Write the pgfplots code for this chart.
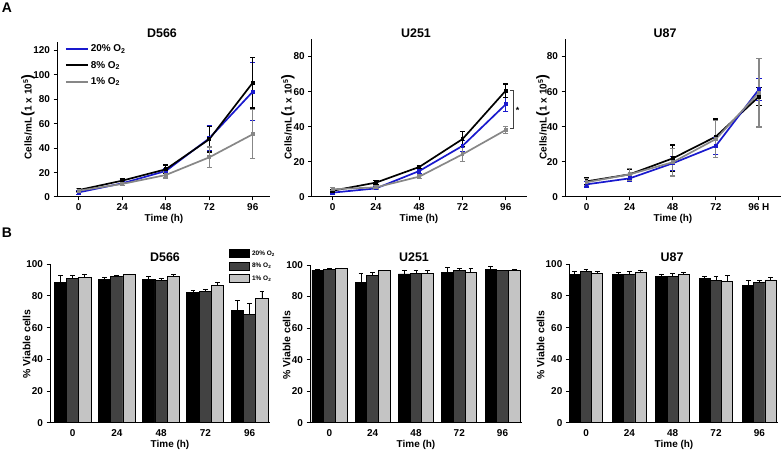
\documentclass[border=0pt]{standalone}
\usepackage{fontspec}
\setmainfont{Liberation Sans}
\usepackage{pgfplots}
\pgfplotsset{compat=1.18}
\definecolor{cblue}{RGB}{25,25,205}
\definecolor{cgray}{RGB}{135,135,135}
\definecolor{bdark}{RGB}{66,66,66}
\definecolor{blight}{RGB}{196,196,196}
\pgfplotsset{
  base/.style={scale only axis, anchor=south west, axis lines=left,
    axis line style={-, line width=1pt, black},
    tick align=outside, major tick length=3.5pt,
    tick style={line width=1pt, black},
    /pgf/number format/assume math mode=true,
    ticklabel style={font=\bfseries\fontsize{10}{12}\selectfont},
    xticklabel style={inner sep=1pt, yshift=-2pt},
    ymin=0, clip=false},
  lineax/.style={base, xtick={0,24,48,72,96}},
  barax/.style={base, ymax=100, ytick={0,20,...,100}, xtick={0,1,2,3,4},
    xticklabels={0,24,48,72,96}, x tick style={draw=none}},
  lp/.style={line width=1.7pt, mark=square*, mark size=1.1pt,
    error bars/y dir=both, error bars/y explicit,
    error bars/error bar style={line width=1.2pt},
    error bars/error mark options={rotate=90, mark size=2.6pt, line width=1.2pt}},
  bp/.style={ybar, bar shift=0pt, draw=black, line width=0.9pt,
    error bars/y dir=plus, error bars/y explicit,
    error bars/error bar style={line width=0.9pt, black},
    error bars/error mark options={rotate=90, mark size=2.4pt, line width=0.9pt, black}},
}
\newcommand{\lab}[1]{\bfseries\fontsize{#1}{#1}\selectfont}
\begin{document}
\begin{tikzpicture}
\useasboundingbox (0,0) rectangle (782bp,456bp);
% ---------------- A1 D566
\begin{axis}[lineax, at={(57bp,259bp)}, width=213bp, height=155bp,
  xmin=-12, xmax=105.5, ymax=127, ytick={0,20,...,120},
  legend style={at={(axis description cs:0.036,1.007)}, anchor=north west,
    draw=none, fill=none, inner sep=0pt, font=\lab{10},
    nodes={inner sep=2pt}},
  legend cell align=left,
  legend image code/.code={\path[draw=none, fill=none] (0pt,-8.15pt) rectangle (22pt,8.15pt);
    \draw[#1, mark=none, line width=2pt] (0pt,0pt) -- (22pt,0pt);}]
\addplot[cblue, lp] coordinates {(0,3.8) +- (0,1.5) (24,11.2) +- (0,1.5) (48,21.3) +- (0,2) (72,48.1) +- (0,10) (96,86.3) +- (0,23.7)};
\addlegendentry{20\% O\textsubscript{2}}
\addplot[black, lp] coordinates {(0,5.7) +- (0,1) (24,13.4) +- (0,1.5) (48,22.7) +- (0,3.5) (72,47.3) +- (0,10.5) (96,93.7) +- (0,20.8)};
\addlegendentry{8\% O\textsubscript{2}}
\addplot[cgray, lp] coordinates {(0,5.2) +- (0,1.5) (24,10.7) +- (0,1.5) (48,18) +- (0,2.5) (72,32.5) +- (0,8.5) (96,51.4) +- (0,20)};
\addlegendentry{1\% O\textsubscript{2}}
\end{axis}
% ---------------- A2 U251
\begin{axis}[lineax, at={(311.7bp,259bp)}, width=215bp, height=158bp,
  xmin=-11.65, xmax=107.6, ymax=90, ytick={0,20,...,80}]
\addplot[cblue, lp] coordinates {(0,2.5) +- (0,0.8) (24,4.9) +- (0,0.8) (48,14.8) +- (0,1.2) (72,29.1) +- (0,3) (96,52.8) +- (0,4)};
\addplot[black, lp] coordinates {(0,3.6) +- (0,0.8) (24,8.2) +- (0,1) (48,17.1) +- (0,1) (72,33) +- (0,4.2) (96,60.6) +- (0,3.8)};
\addplot[cgray, lp] coordinates {(0,4.4) +- (0,0.8) (24,5.5) +- (0,1) (48,11.6) +- (0,1) (72,24.3) +- (0,4) (96,38.2) +- (0,2)};
\draw[black!75, line width=1pt] (axis cs:98.4,60.6) -- (axis cs:100.2,60.6) -- (axis cs:100.2,38.8) -- (axis cs:98.4,38.8);
\node[font=\lab{9}] at (axis cs:102.6,49.5) {*};
\end{axis}
% ---------------- A3 U87
\begin{axis}[lineax, at={(565bp,259bp)}, width=216bp, height=158bp,
  xmin=-12, xmax=108.3, ymax=90, ytick={0,20,...,80},
  xticklabels={0,24,48,72,96 H}]
\addplot[black, lp] coordinates {(0,8.9) +- (0,2) (24,12.9) +- (0,3) (48,22) +- (0,7.6) (72,34.4) +- (0,10) (96,57.2) +- (0,5)};
\addplot[cblue, lp] coordinates {(0,7.2) +- (0,1.5) (24,10.6) +- (0,2) (48,19.2) +- (0,4) (72,29.1) +- (0,5) (96,61.3) +- (0,6.3)};
\addplot[cgray, lp] coordinates {(0,8.4) +- (0,2) (24,12.9) +- (0,3.5) (48,19.8) +- (0,7.8) (72,33) +- (0,10.5) (96,59.4) +- (0,19.5)};
\end{axis}
% ---------------- B1 D566
\begin{axis}[barax, at={(50bp,33.3bp)}, width=220bp, height=158.4bp,
  xmin=-0.51, xmax=4.46,
  legend style={at={(axis description cs:0.814,1.109)}, anchor=north west,
    draw=none, fill=none, inner sep=0pt, font=\lab{6.5},
    nodes={inner sep=2pt}},
  legend cell align=left,
  legend image code/.code={\path[draw=none, fill=none] (0pt,-6.35pt) rectangle (20pt,6.35pt);
    \draw[#1, line width=0.9pt] (0pt,-4pt) rectangle (20pt,4pt);}]
\addplot[bp, fill=black, bar width=0.278] coordinates {(-0.278,88.8) +- (0,4.1) (0.722,90.4) +- (0,1.2) (1.722,90.4) +- (0,1.8) (2.722,82.4) +- (0,0.9) (3.722,70.8) +- (0,6.5)};
\addlegendentry{20\% O\textsubscript{2}}
\addplot[bp, fill=bdark, bar width=0.278] coordinates {(0,91.0) +- (0,1.9) (1,92.2) +- (0,0.5) (2,89.8) +- (0,1.2) (3,82.7) +- (0,1.2) (4,68.6) +- (0,6.9)};
\addlegendentry{8\% O\textsubscript{2}}
\addplot[bp, fill=blight, bar width=0.278] coordinates {(0.278,91.6) +- (0,2.3) (1.278,93.5) +- (0,0.4) (2.278,92.2) +- (0,1.3) (3.278,86.9) +- (0,1.7) (4.278,78.6) +- (0,4.3)};
\addlegendentry{1\% O\textsubscript{2}}
\end{axis}
% ---------------- B2 U251
\begin{axis}[barax, at={(310bp,33.3bp)}, width=212bp, height=157.7bp,
  xmin=-0.45, xmax=4.45]
\addplot[bp, fill=black, bar width=0.27] coordinates {(-0.27,96.8) +- (0,0.5) (0.73,88.8) +- (0,5.9) (1.73,94.3) +- (0,2.1) (2.73,95.3) +- (0,3) (3.73,97.3) +- (0,1.6)};
\addplot[bp, fill=bdark, bar width=0.27] coordinates {(0,97.3) +- (0,0.4) (1,93.2) +- (0,2.1) (2,94.7) +- (0,1.7) (3,96.6) +- (0,1.1) (4,96.6) +- (0,0.2)};
\addplot[bp, fill=blight, bar width=0.27] coordinates {(0.27,97.7) +- (0,0.4) (1.27,96.4) +- (0,0.2) (2.27,94.7) +- (0,2.1) (3.27,95.3) +- (0,2.4) (4.27,96.6) +- (0,0.3)};
\end{axis}
% ---------------- B3 U87
\begin{axis}[barax, at={(569.3bp,33.3bp)}, width=208.7bp, height=158.4bp,
  xmin=-0.386, xmax=4.43]
\addplot[bp, fill=black, bar width=0.258] coordinates {(-0.258,93.7) +- (0,1.9) (0.742,93.7) +- (0,1) (1.742,92.6) +- (0,1.3) (2.742,90.9) +- (0,1.5) (3.742,86.9) +- (0,2.6)};
\addplot[bp, fill=bdark, bar width=0.258] coordinates {(0,95.4) +- (0,1.4) (1,93.7) +- (0,1.9) (2,92.2) +- (0,2.1) (3,89.9) +- (0,2.5) (4,88.4) +- (0,1.5)};
\addplot[bp, fill=blight, bar width=0.258] coordinates {(0.258,94.3) +- (0,1.3) (1.258,94.9) +- (0,1.1) (2.258,93.5) +- (0,1.2) (3.258,89.3) +- (0,3.7) (4.258,90.1) +- (0,1.5)};
\end{axis}
% ---------------- texts
\node[font=\lab{14}] at (7bp,448bp) {A};
\node[font=\lab{14}] at (7bp,223bp) {B};
\node[font=\lab{12.5}] at (162bp,423bp) {D566};
\node[font=\lab{12.5}] at (416bp,423bp) {U251};
\node[font=\lab{12.5}] at (665bp,423bp) {U87};
\node[font=\lab{12.5}] at (165bp,199bp) {D566};
\node[font=\lab{12.5}] at (414bp,199bp) {U251};
\node[font=\lab{12.5}] at (672bp,199bp) {U87};
\node[font=\lab{10}, inner sep=0pt] at (164bp,237bp) {Time (h)};
\node[font=\lab{10}, inner sep=0pt] at (419bp,237bp) {Time (h)};
\node[font=\lab{10}, inner sep=0pt] at (673bp,237bp) {Time (h)};
\node[font=\lab{10}, inner sep=0pt] at (170bp,11bp) {Time (h)};
\node[font=\lab{10}, inner sep=0pt] at (416bp,11bp) {Time (h)};
\node[font=\lab{10}, inner sep=0pt] at (674bp,11bp) {Time (h)};
\node[font=\lab{10}, rotate=90] at (28bp,339bp) {Cells/mL\,{\Large(}1 x 10\textsuperscript{5}{\Large)}};
\node[font=\lab{10}, rotate=90] at (288bp,339bp) {Cells/mL\,{\Large(}1 x 10\textsuperscript{5}{\Large)}};
\node[font=\lab{10}, rotate=90] at (543bp,339bp) {Cells/mL\,{\Large(}1 x 10\textsuperscript{5}{\Large)}};
\node[font=\lab{10.5}, rotate=90] at (26.7bp,112bp) {\% Viable cells};
\node[font=\lab{10.5}, rotate=90] at (286.7bp,111bp) {\% Viable cells};
\node[font=\lab{10.5}, rotate=90] at (540.7bp,111bp) {\% Viable cells};
\end{tikzpicture}
\end{document}
